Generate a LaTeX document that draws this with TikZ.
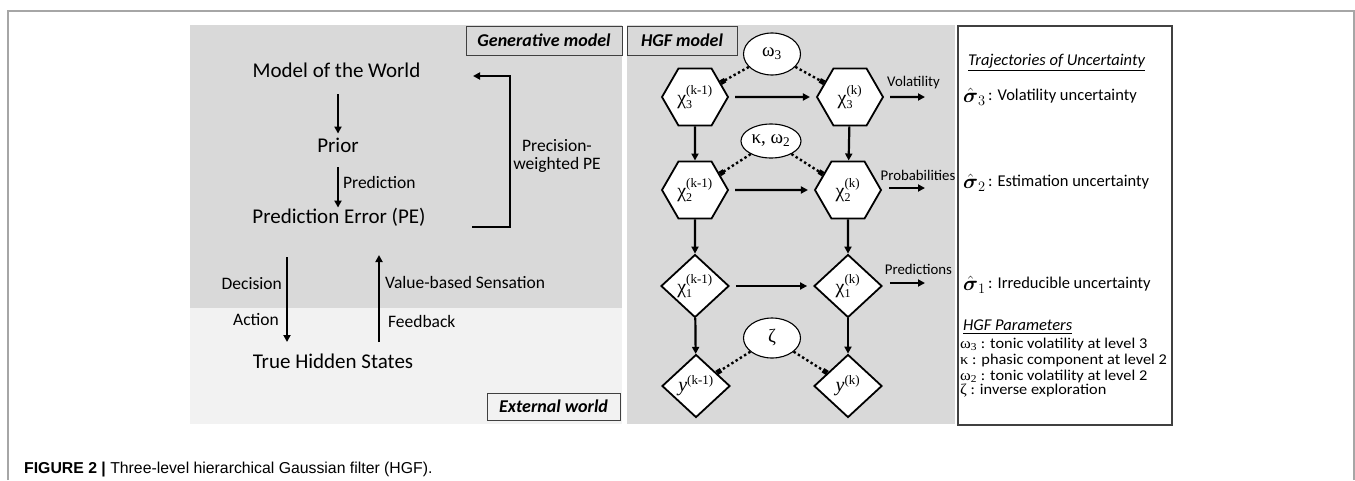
\documentclass[tikz,border=0pt]{standalone}
\usepackage{amsmath}
\usepackage{fontspec}
\usepackage{graphicx}
\setmainfont{Carlito}
\newfontfamily\serif{Liberation Serif}
\newfontfamily\capfont{Liberation Sans}
\usetikzlibrary{shapes.geometric,arrows.meta}
\definecolor{panel}{HTML}{D9D9D9}
\definecolor{panellight}{HTML}{F2F2F2}
\definecolor{framegray}{HTML}{A6A6A6}
\definecolor{boxgray}{HTML}{404040}
% level variable: symbol, subscript, superscript
\newcommand{\hv}[3]{#1$_{\mbox{\fontsize{12}{12}\selectfont #2}}^{\mbox{\fontsize{13}{13}\selectfont #3}}$}
% trajectory symbol
\newcommand{\sh}[1]{$\hat{\boldsymbol{\sigma}}_{#1}$}
\begin{document}
\begin{tikzpicture}[x=1pt,y=-1pt,
  big/.style={inner sep=0pt,text height=14.5pt,text depth=4pt,font=\fontsize{21}{22}\selectfont},
  lbl/.style={inner sep=2pt,font=\fontsize{17.5}{18.5}\selectfont},
  small/.style={inner sep=1pt,font=\fontsize{14.8}{15}\selectfont},
  hexa/.style={draw,line width=1.8pt,fill=white,regular polygon,regular polygon sides=6,minimum size=66pt,inner sep=0pt,font=\serif\fontsize{20}{20}\selectfont},
  diam/.style={draw,line width=1.8pt,fill=white,diamond,minimum width=68pt,minimum height=63pt,inner sep=0pt,font=\serif\fontsize{20}{20}\selectfont},
  parm/.style={draw,line width=1.1pt,fill=white,ellipse,minimum width=57pt,minimum height=42pt,inner sep=0pt,font=\serif\fontsize{19}{19}\selectfont},
  arr/.style={line width=2.2pt,-{Triangle[length=7pt,width=7pt]}},
  dots/.style={line width=2.4pt,dash pattern=on 2.4pt off 2.6pt,-{Square[length=5pt,width=5pt]}},
  tag/.style={draw=boxgray,line width=1pt,inner sep=0pt,font=\bfseries\itshape\fontsize{18}{19}\selectfont},
  sig/.style={anchor=west,inner sep=0pt,font=\fontsize{20}{20}\selectfont},
  txt/.style={anchor=west,inner sep=0pt,font=\fontsize{16.5}{17}\selectfont},
  par/.style={anchor=west,inner sep=0pt,font=\fontsize{15}{15}\selectfont}]
\useasboundingbox (0,0) rectangle (1355,480);
% outer frame and panels
\draw[framegray,line width=1.5pt] (8,480) -- (8,11) -- (1354,11) -- (1354,480);
\fill[panel] (190,25) rectangle (622,308);
\fill[panellight] (190,308) rectangle (622,424);
\fill[panel] (627,25) rectangle (955,424);
\draw[boxgray,line width=1.6pt] (958,26) rectangle (1172,425);
\node[tag,minimum width=156pt,minimum height=29pt] (gen) at (544,40.5) {Generative model};
\node[tag,minimum width=110pt,minimum height=29pt] (hgf) at (682,40.5) {HGF model};
\node[tag,minimum width=133pt,minimum height=27pt] (ext) at (553.5,406.5) {External world};

% generative model
\node[big] (mw) at (336.5,72) {Model of the World};
\node[big] (prior) at (338,147) {Prior};
\node[big] (pe) at (339,218) {Prediction Error (PE)};
\node[big] (ths) at (333,363) {True Hidden States};
\draw[arr,shorten <=13pt,shorten >=4pt] (mw.south -| prior) -- (prior.north);
\draw[arr,shorten <=11pt,shorten >=1pt] (prior.south) -- node[lbl,right,xshift=2pt]{Prediction} (prior.south |- pe.north);
\coordinate (fb1) at (472,227);
\coordinate (fb2) at (473,76);
\draw[arr] (fb1) -- (510,227) |- (fb2);
\node[lbl,align=center] (pwpe) at (557,156) {Precision-\\weighted PE};
\coordinate (dec1) at (287,257);
\coordinate (dec2) at (287,342);
\coordinate (sen1) at (379,342);
\coordinate (sen2) at (379,255);
\draw[arr] (dec1) -- node[lbl,pos=0.31,left,xshift=-2pt]{Decision} node[lbl,pos=0.74,left,xshift=-5pt]{Action} (dec2);
\draw[arr] (sen1) -- node[lbl,pos=0.68,right,xshift=3pt]{Value-based Sensation} node[lbl,pos=0.24,right,xshift=6pt]{Feedback} (sen2);

% HGF graph
\node[parm] (w3) at (772,54) {ω\textsubscript{3}};
\node[parm,minimum width=60pt,minimum height=34pt] (kw) at (771,141) {κ, ω\textsubscript{2}};
\node[parm,minimum height=40pt] (zeta) at (772,338) {ζ};
\node[hexa] (x3a) at (695,97) {\hv{χ}{3}{(k-1)}};
\node[hexa] (x3b) at (850,97) {\hv{χ}{3}{(k)}};
\node[hexa] (x2a) at (695,190) {\hv{χ}{2}{(k-1)}};
\node[hexa] (x2b) at (848,190) {\hv{χ}{2}{(k)}};
\node[diam] (x1a) at (695,286) {\hv{χ}{1}{(k-1)}};
\node[diam] (x1b) at (848,286) {\hv{χ}{1}{(k)}};
\node[diam] (ya) at (696,386) {\hv{\textit{y}}{}{(k-1)}};
\node[diam] (yb) at (848,386) {\hv{\textit{y}}{}{(k)}};
\foreach \a/\b in {x3a/x2a,x2a/x1a,x1a/ya,x3b/x2b,x2b/x1b,x1b/yb} {
  \draw[arr] (\a) -- (\b);
}
\foreach \a/\b in {x3a/x3b,x2a/x2b,x1a/x1b} {
  \draw[arr,shorten <=6pt,shorten >=6pt] (\a) -- (\b);
}
\foreach \p/\a/\b in {w3/x3a/x3b,kw/x2a/x2b,zeta/ya/yb} {
  \draw[dots] (\p) -- (\a);
  \draw[dots] (\p) -- (\b);
}
\coordinate (vol) at (925,97);
\coordinate (prob) at (925,188);
\coordinate (pred) at (925,283);
\draw[arr] ([xshift=6pt]x3b.east) -- node[small,above=6pt,xshift=6pt]{Volatility} (vol);
\draw[arr] ([xshift=7pt]x2b.east |- prob) -- node[small,above=5pt,xshift=11pt]{Probabilities} (prob);
\draw[arr] ([xshift=7pt]x1b.east |- pred) -- node[small,above=6pt,xshift=11pt]{Predictions} (pred);

% trajectories and parameters
\node[txt] (traj) at (968,63) {\underline{\textit{Trajectories of Uncertainty}}};
\node[sig] (sg3) at (963,97) {\sh{3}};
\node[sig] (sg2) at (963,183) {\sh{2}};
\node[sig] (sg1) at (963,285) {\sh{1}};
\node[txt] (s3) at (988,96) {: Volatility uncertainty};
\node[txt] (s2) at (988,182) {: Estimation uncertainty};
\node[txt] (s1) at (988,284) {: Irreducible uncertainty};
\node[txt] (hp) at (963,327) {\underline{\textit{HGF Parameters}}};
\node[par] (p1) at (960,344) {\scalebox{1.09}[1]{{\serif ω\textsubscript{3}} : tonic volatility at level 3}};
\node[par] (p2) at (960,360) {\scalebox{1.09}[1]{{\serif κ} : phasic component at level 2}};
\node[par] (p3) at (960,376) {\scalebox{1.09}[1]{{\serif ω\textsubscript{2}} : tonic volatility at level 2}};
\node[par] (p4) at (960,391) {\scalebox{1.09}[1]{{\serif ζ} : inverse exploration}};

% caption
\node[anchor=west,inner sep=0pt,font=\capfont\fontsize{15.8}{16}\selectfont] (cap) at (24,470) {\textbf{FIGURE 2 |} Three-level hierarchical Gaussian filter (HGF).};
\end{tikzpicture}
\end{document}
